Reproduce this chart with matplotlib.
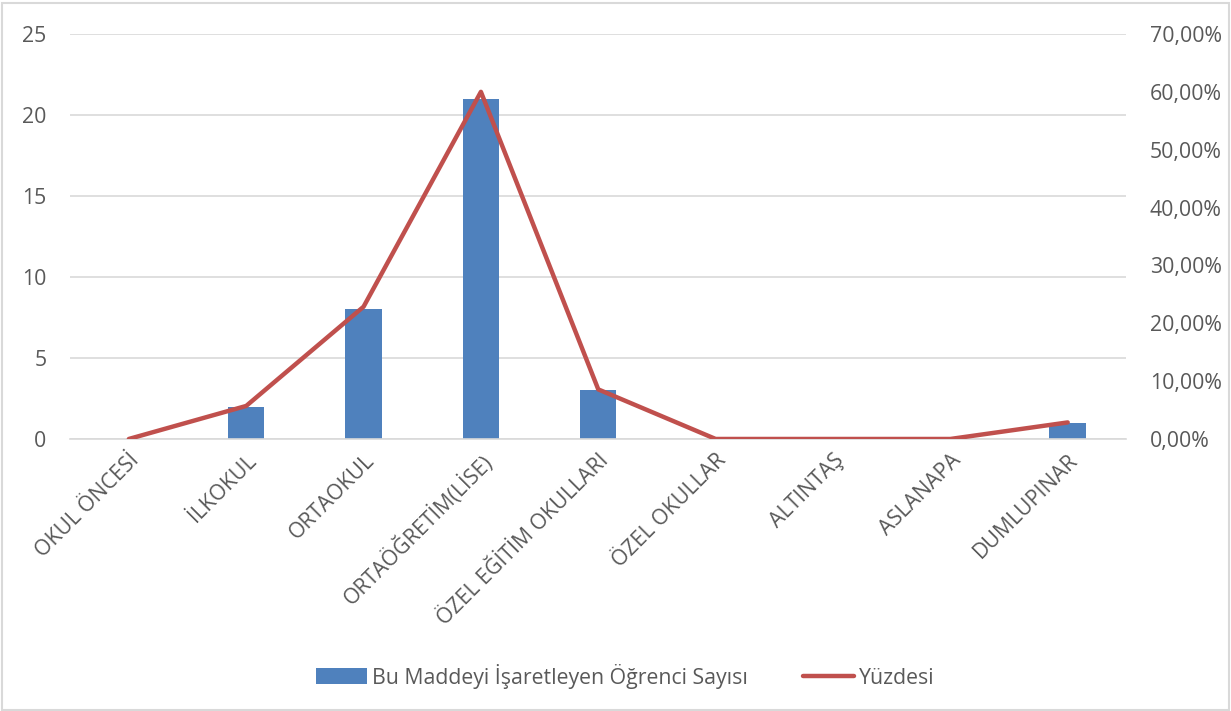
import matplotlib.pyplot as plt
from matplotlib.patches import Rectangle
from matplotlib.ticker import FuncFormatter, MultipleLocator

plt.rcParams['font.family'] = ['Open Sans', 'DejaVu Sans']

# %% data
categories = ['OKUL ÖNCESİ', 'İLKOKUL', 'ORTAOKUL', 'ORTAÖĞRETİM(LİSE)', 'ÖZEL EĞİTİM OKULLARI',
              'ÖZEL OKULLAR', 'ALTINTAŞ', 'ASLANAPA', 'DUMLUPINAR']
counts = [0, 2, 8, 21, 3, 0, 0, 0, 1]
percents = [0.0, 5.71, 22.86, 60.0, 8.57, 0.0, 0.0, 0.0, 2.86]

bar_label = 'Bu Maddeyi İşaretleyen Öğrenci Sayısı'
line_label = 'Yüzdesi'

txt = '#595959'
grid = '#D9D9D9'
fs = 15.3

# %% plot
fig = plt.figure(figsize=(12.31, 7.11), dpi=100)
fig.patches.append(Rectangle((0.002, 0.002), 0.996, 0.994, transform=fig.transFigure,
                             fill=False, edgecolor=grid, linewidth=1.5))
ax = fig.add_axes([0.057, 0.3826, 0.858, 0.5696])
x = list(range(len(categories)))
ax.bar(x, counts, width=0.31, color='#4F81BD', label=bar_label, zorder=2)
ax.set_xlim(-0.5, len(categories) - 0.5)
ax.set_ylim(0, 25)
ax.yaxis.set_major_locator(MultipleLocator(5))
ax.grid(axis='y', color=grid, linewidth=1.2, zorder=0)
ax.set_axisbelow(True)
for s in ['top', 'right', 'left']:
    ax.spines[s].set_visible(False)
ax.spines['bottom'].set_color(grid)
ax.spines['bottom'].set_linewidth(1.2)
ax.tick_params(axis='both', length=0, colors=txt, labelsize=fs)
ax.tick_params(axis='y', pad=17)
ax.set_xticks(x)
ax.set_xticklabels(categories, rotation=45, ha='right', rotation_mode='anchor')
ax.tick_params(axis='x', pad=8)

ax2 = ax.twinx()
ax2.plot(x, percents, color='#C0504D', linewidth=3.2, label=line_label, zorder=3,
         solid_capstyle='round')
ax2.set_ylim(0, 70)
ax2.yaxis.set_major_locator(MultipleLocator(10))
ax2.yaxis.set_major_formatter(FuncFormatter(lambda v, p: f'{v:.2f}'.replace('.', ',') + '%'))
for s in ax2.spines.values():
    s.set_visible(False)
ax2.tick_params(axis='y', length=0, colors=txt, labelsize=fs, pad=17)

h1, l1 = ax.get_legend_handles_labels()
h2, l2 = ax2.get_legend_handles_labels()
fig.legend(h1 + h2, l1 + l2, loc='center', bbox_to_anchor=(0.508, 0.049), ncol=2,
           frameon=False, fontsize=fs, labelcolor=txt, handlelength=2.4, handletextpad=0.25,
           columnspacing=2.6, handleheight=0.8)

plt.savefig('out.png', dpi=100)
